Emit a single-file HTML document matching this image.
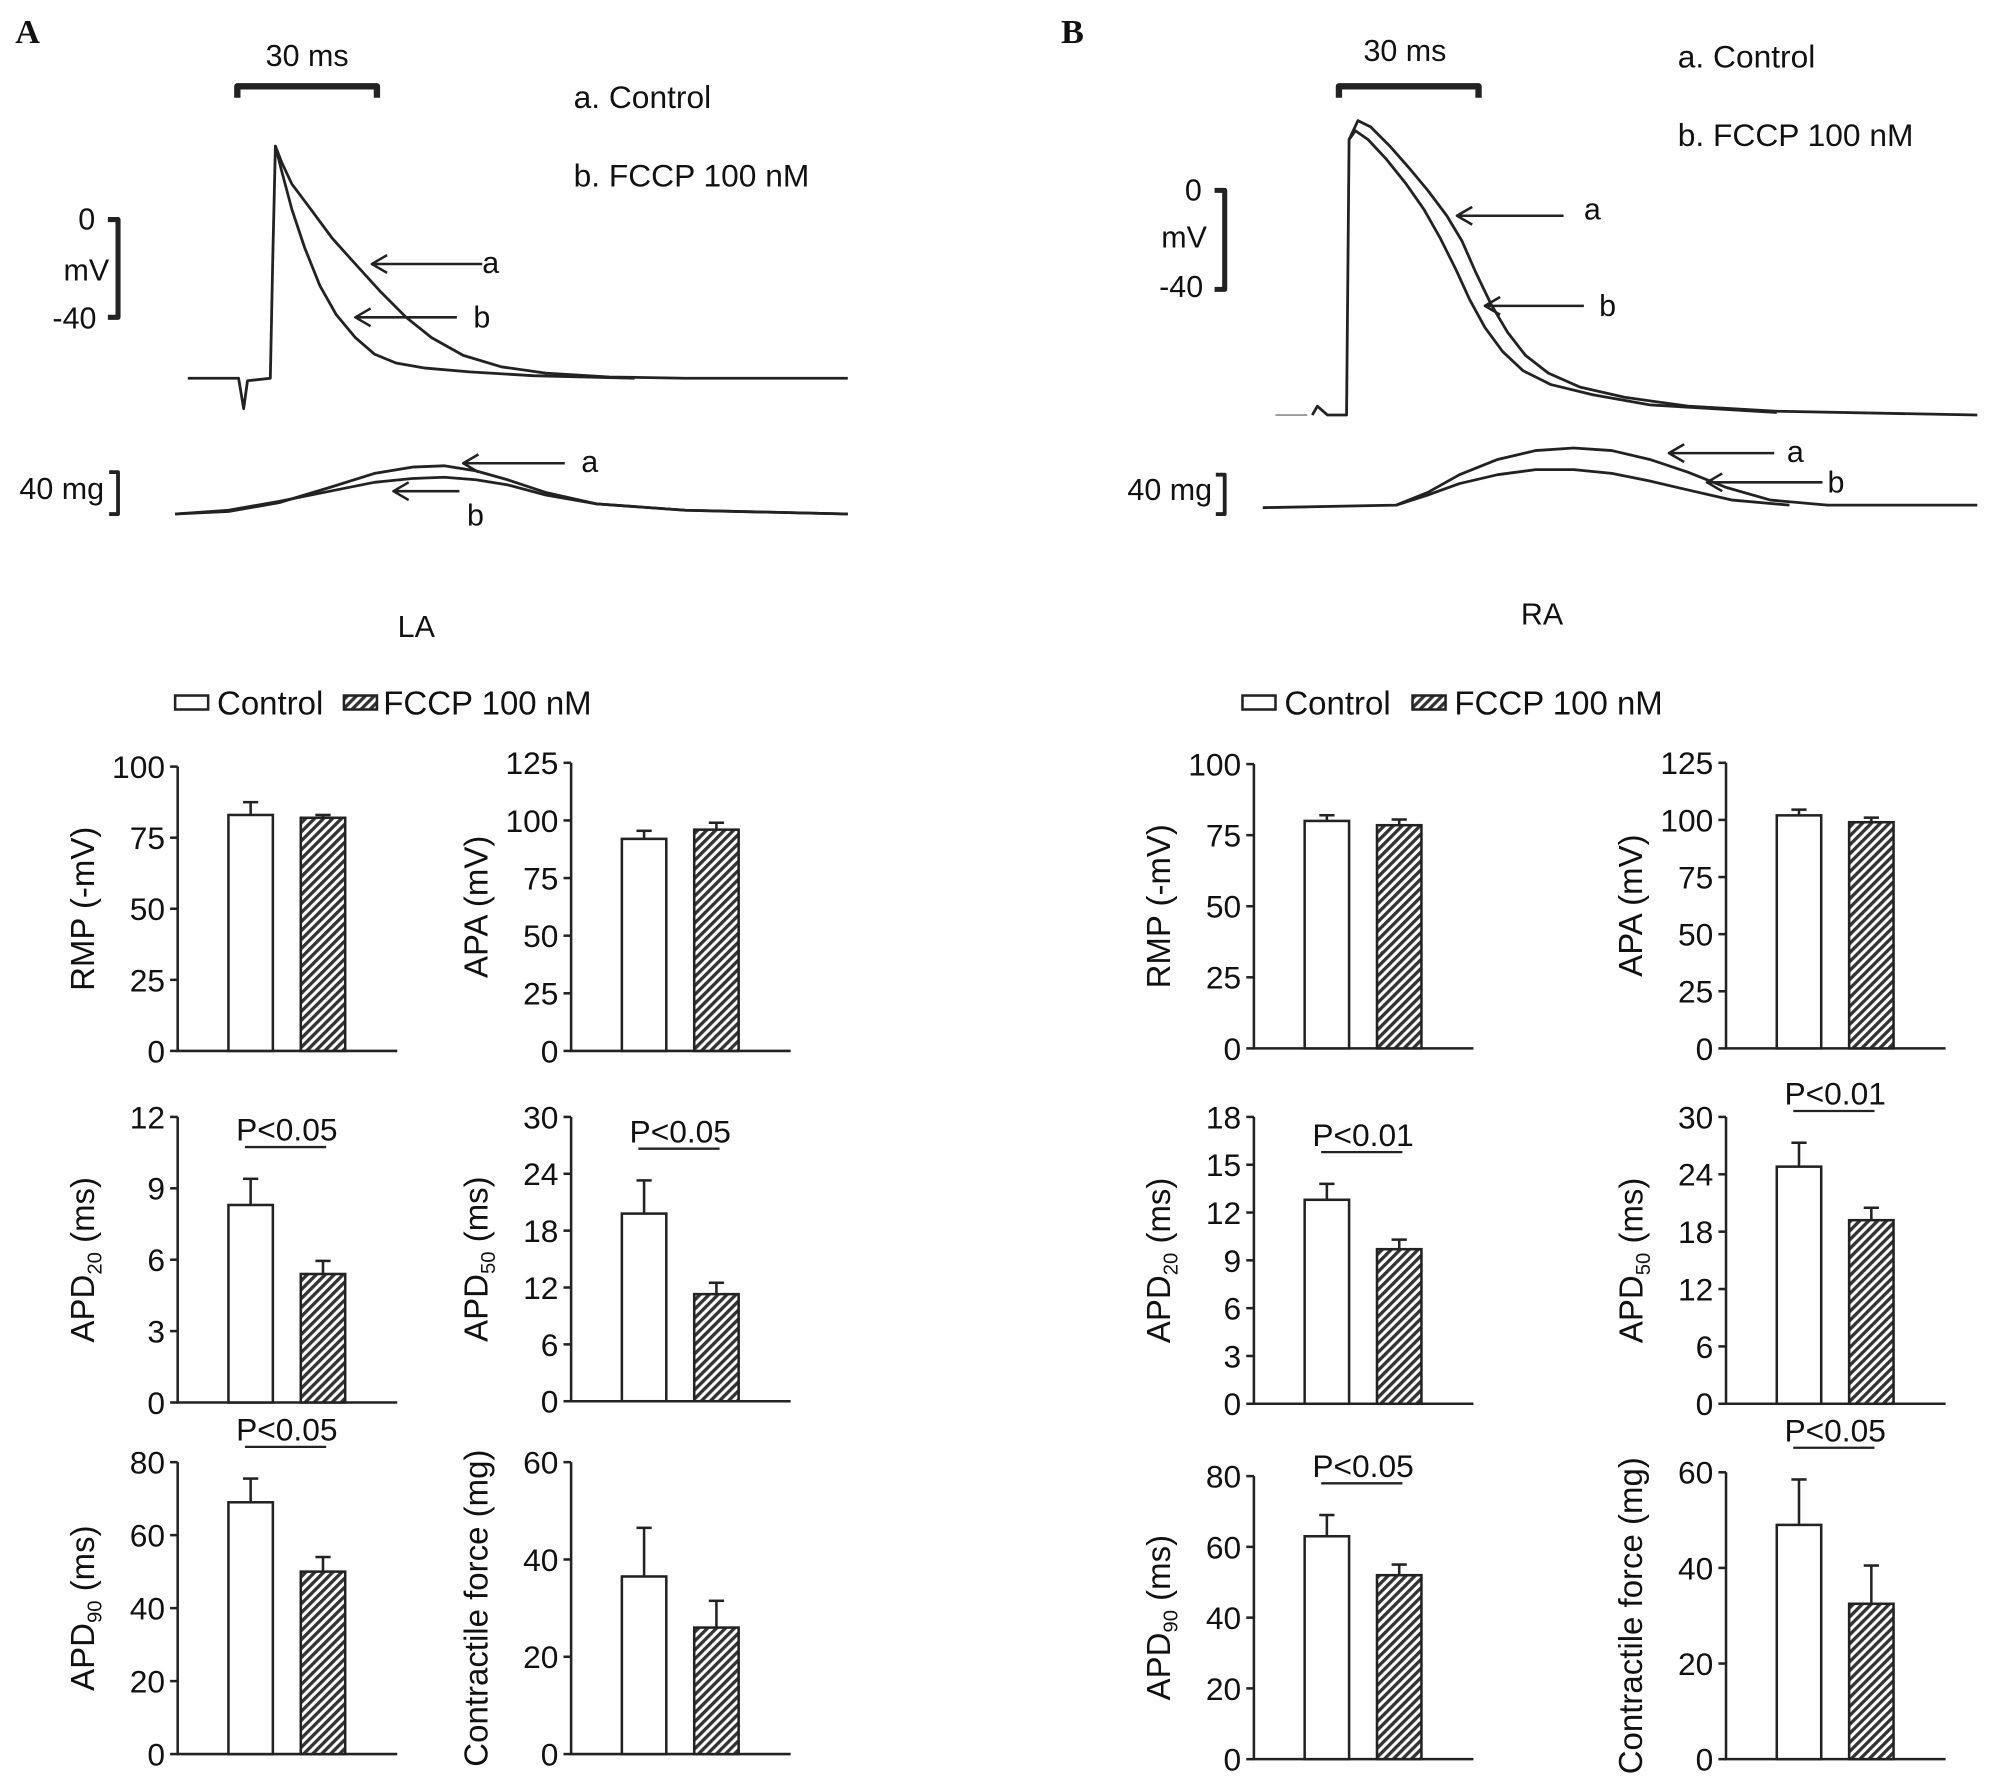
<!DOCTYPE html>
<html><head><meta charset="utf-8"><style>
html,body{margin:0;padding:0;background:#fff}
svg{display:block}
text{font-family:"Liberation Sans",Arial,sans-serif;fill:#111;stroke:none}
</style></head><body>
<svg id="fig" width="1990" height="1782" viewBox="0 0 1568 1404" preserveAspectRatio="none">
<defs>
<pattern id="hatch" patternUnits="userSpaceOnUse" width="5" height="5" patternTransform="rotate(45)">
<rect width="5" height="5" fill="#fff"/><rect width="2.6" height="5" fill="#333"/>
</pattern>
</defs>
<g id="traces" fill="none" stroke="#222" stroke-width="2.2" stroke-linejoin="round">
<!-- Panel A -->
<text x="12" y="34" font-family="Liberation Serif" font-weight="bold" font-size="27" style="font-family:'Liberation Serif',serif">A</text>
<path d="M187,77 V68 H297 V77" stroke-width="5"/>
<text x="242" y="52" font-size="24" text-anchor="middle">30 ms</text>
<text x="452" y="85" font-size="25">a. Control</text>
<text x="452" y="147" font-size="25">b. FCCP 100 nM</text>
<path d="M85,173 H93 V250 H85" stroke-width="4"/>
<text x="75" y="181" font-size="24" text-anchor="end">0</text>
<text x="86" y="221" font-size="24" text-anchor="end">mV</text>
<text x="76" y="259" font-size="24" text-anchor="end">-40</text>
<path d="M148,298 L188,298 L192,322 L195,300 L213,298 L215,200 L217,115 L222,128 L230,145 L245,165 L262,188 L280,208 L300,230 L320,250 L340,266 L365,280 L395,289 L430,294 L480,297 L540,298 L668,298"/>
<path d="M217,115 L222,135 L230,165 L240,195 L252,225 L265,248 L280,266 L295,279 L312,286 L335,290 L370,293 L420,296 L500,298"/>
<path d="M380,208 H293 M305,201 L293,208 L305,215" stroke-width="2"/>
<text x="380" y="215" font-size="24">a</text>
<path d="M360,250 H280 M292,243 L280,250 L292,257" stroke-width="2"/>
<text x="373" y="258" font-size="24">b</text>
<path d="M138,405 L180,403 L220,396 L260,384 L295,373 L325,368 L350,367 L375,371 L400,378 L430,388 L470,397 L540,402 L668,405"/>
<path d="M138,405 L180,402 L220,395 L260,387 L295,380 L325,377 L350,376 L375,378 L400,382 L430,390 L470,397 L540,402 L668,405"/>
<path d="M445,365 H365 M377,358 L365,365 L377,372" stroke-width="2"/>
<text x="458" y="372" font-size="24">a</text>
<path d="M362,387 H310 M322,380 L310,387 L322,394" stroke-width="2"/>
<text x="368" y="414" font-size="24">b</text>
<path d="M86,372 H93 V405 H86" stroke-width="3"/>
<text x="82" y="393" font-size="24" text-anchor="end">40 mg</text>
<text x="328" y="502" font-size="24" text-anchor="middle">LA</text>
<!-- Panel B -->
<text x="836" y="34" font-weight="bold" font-size="27" style="font-family:'Liberation Serif',serif">B</text>
<path d="M1055,77 V68 H1165 V77" stroke-width="5"/>
<text x="1107" y="48" font-size="24" text-anchor="middle">30 ms</text>
<text x="1322" y="53" font-size="25">a. Control</text>
<text x="1322" y="115" font-size="25">b. FCCP 100 nM</text>
<path d="M957,150 H965 V228 H957" stroke-width="4"/>
<text x="947" y="158" font-size="24" text-anchor="end">0</text>
<text x="951" y="195" font-size="24" text-anchor="end">mV</text>
<text x="948" y="234" font-size="24" text-anchor="end">-40</text>
<path d="M1005,327 H1030" stroke="#999" stroke-width="1.5"/>
<path d="M1034,327 L1038,320 L1046,327 L1061,327 L1063,110 L1070,95 L1080,100 L1095,115 L1110,132 L1125,150 L1140,170 L1152,190 L1163,215 L1175,240 L1188,262 L1202,280 L1220,294 L1245,305 L1280,313 L1330,320 L1400,324 L1558,327"/>
<path d="M1063,110 L1068,103 L1078,110 L1092,125 L1108,145 L1122,165 L1135,188 L1147,212 L1158,236 L1170,258 L1184,277 L1200,292 L1222,303 L1255,311 L1300,319 L1400,325"/>
<path d="M1232,170 H1148 M1160,163 L1148,170 L1160,177" stroke-width="2"/>
<text x="1248" y="173" font-size="24">a</text>
<path d="M1248,241 H1170 M1182,234 L1170,241 L1182,248" stroke-width="2"/>
<text x="1260" y="249" font-size="24">b</text>
<path d="M995,400 L1100,398 L1125,388 L1150,374 L1180,362 L1210,355 L1240,353 L1270,355 L1300,362 L1330,372 L1360,384 L1395,394 L1440,398 L1558,398"/>
<path d="M1100,398 L1125,390 L1150,381 L1180,374 L1210,370 L1240,370 L1270,373 L1300,379 L1330,386 L1365,394 L1410,398"/>
<path d="M1398,357 H1315 M1327,350 L1315,357 L1327,364" stroke-width="2"/>
<text x="1408" y="364" font-size="24">a</text>
<path d="M1436,380 H1345 M1357,373 L1345,380 L1357,387" stroke-width="2"/>
<text x="1440" y="388" font-size="24">b</text>
<path d="M958,374 H965 V405 H958" stroke-width="3"/>
<text x="955" y="394" font-size="24" text-anchor="end">40 mg</text>
<text x="1215" y="492" font-size="24" text-anchor="middle">RA</text>
</g>
<g id="legends">
<rect x="138" y="548" width="26" height="11" fill="#fff" stroke="#222" stroke-width="2"/>
<text x="171" y="563" font-size="26">Control</text>
<rect x="271" y="548" width="26" height="11" fill="url(#hatch)" stroke="#222" stroke-width="2"/>
<text x="302" y="563" font-size="26">FCCP 100 nM</text>
<rect x="979" y="548" width="26" height="11" fill="#fff" stroke="#222" stroke-width="2"/>
<text x="1012" y="563" font-size="26">Control</text>
<rect x="1113" y="548" width="26" height="11" fill="url(#hatch)" stroke="#222" stroke-width="2"/>
<text x="1146" y="563" font-size="26">FCCP 100 nM</text>
</g>
<g id="charts"></g>
</svg>
<script>
const chartNames = ["la-rmp","la-apa","la-apd20","la-apd50","la-apd90","la-force","ra-rmp","ra-apa","ra-apd20","ra-apd50","ra-apd90","ra-force"];
const yMaxes = [100,125,12,30,80,60,100,125,18,30,80,60];
const tickSteps = [25,25,3,6,20,20,25,25,3,6,20,20];
const controlValues = [83,92,8.3,19.8,69,36.5,80,102,12.8,24.8,63,49];
const controlErrors = [4.5,3.5,1.1,3.5,6.5,10,2,2.5,1,2.5,6,9.5];
const fccpValues = [82,96,5.4,11.3,50,26,78.5,99,9.7,19.2,52,32.5];
const fccpErrors = [1,3,0.55,1.2,4,5.5,2,2,0.6,1.3,3,8];
const pLabels = ["","","P<0.05","P<0.05","P<0.05","","","","P<0.01","P<0.01","P<0.05","P<0.05"];
const yTitles = [["RMP (-mV)",""],["APA (mV)",""],["APD","20"],["APD","50"],["APD","90"],["Contractile force (mg)",""],["RMP (-mV)",""],["APA (mV)",""],["APD","20"],["APD","50"],["APD","90"],["Contractile force (mg)",""]];
const layout = [[140,604,828],[450,601,828],[140,880,1105],[450,880,1104],[140,1152,1382],[450,1152,1382],
[988,602,826],[1360,601,826],[988,880,1106],[1360,880,1106],[988,1163,1386],[1360,1160,1386]];
const NS="http://www.w3.org/2000/svg";
const root=document.getElementById('charts');
function mk(tag,attrs,parent){const e=document.createElementNS(NS,tag);for(const k in attrs)e.setAttribute(k,attrs[k]);parent.appendChild(e);return e;}
chartNames.forEach((name,i)=>{
  const [ax,ty,by]=layout[i];
  const y=v=>by-(v/yMaxes[i])*(by-ty);
  const g=mk('g',{},root);
  
  
  mk('path',{d:`M${ax},${ty} V${by} H${ax+173}`,stroke:'#222','stroke-width':2,fill:'none'},g);
  for(let v=0;v<=yMaxes[i]+1e-9;v+=tickSteps[i]){
    mk('line',{x1:ax-6,x2:ax,y1:y(v),y2:y(v),stroke:'#222','stroke-width':2},g);
    const t=mk('text',{x:ax-10,y:y(v)+9,'font-size':25,'text-anchor':'end'},g);
    t.textContent=v;
    
    
  }
  const cx=ax+40, fx=ax+97, w=35;
  [[cx,controlValues[i],controlErrors[i],'#fff','bar-control'],[fx,fccpValues[i],fccpErrors[i],'url(#hatch)','bar-fccp']].forEach(([x,v,e,fill,nm])=>{
    const top=y(v+e), mid=x+w/2;
    mk('line',{x1:mid,x2:mid,y1:y(v),y2:top,stroke:'#222','stroke-width':2},g);
    mk('line',{x1:mid-6,x2:mid+6,y1:top,y2:top,stroke:'#222','stroke-width':2},g);
    const r=mk('rect',{x:x,y:y(v),width:w,height:by-y(v),fill:fill,stroke:'#222','stroke-width':2},g);
    
    
  });
  const lx=ax-66, ly=(ty+by)/2;
  const t=mk('text',{x:lx,y:ly,'font-size':26,'text-anchor':'middle',transform:`rotate(-90 ${lx} ${ly})`},g);
  
  
  t.appendChild(document.createTextNode(yTitles[i][0]));
  if(yTitles[i][1]){
    const s=mk('tspan',{'font-size':16,dy:6},t);s.textContent=yTitles[i][1];
    const s2=mk('tspan',{dy:-6},t);s2.textContent=' (ms)';
  }
  if(pLabels[i]){
    const py = y(Math.max(controlValues[i]+controlErrors[i],fccpValues[i]+fccpErrors[i]));
    const lineY = Math.min(py-25, ty+32);
    mk('line',{x1:cx+13,x2:fx+20,y1:lineY,y2:lineY,stroke:'#222','stroke-width':1.8},g);
    const p=mk('text',{x:(cx+fx+w)/2,y:lineY-5,'font-size':25,'text-anchor':'middle'},g);
    p.textContent=pLabels[i];
    
    
  }
});
</script>
</body></html>
